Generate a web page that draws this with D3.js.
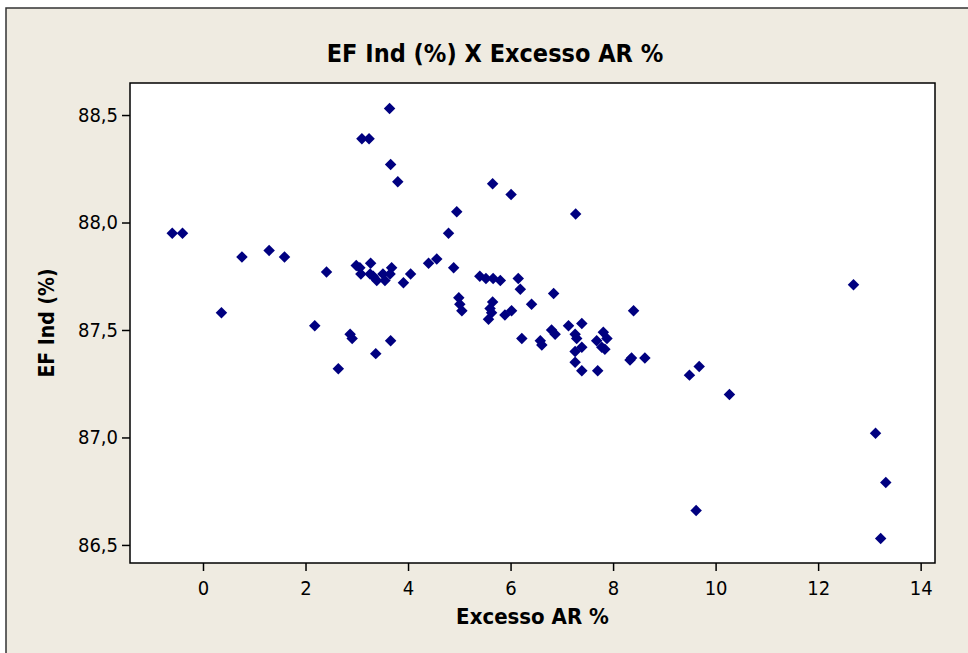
<!DOCTYPE html>
<html>
<head>
<meta charset="utf-8">
<script src="https://cdn.jsdelivr.net/npm/d3@7"></script>
<style>
  body { margin: 0; background: #fff; }
  svg { display: block; }
  .tick text { font-family: "DejaVu Sans Condensed", "DejaVu Sans", sans-serif; font-size: 20px; fill: #000; }
  .title, .axis-label { font-family: "DejaVu Sans Condensed", "DejaVu Sans", sans-serif; font-weight: bold; fill: #000; }
</style>
</head>
<body>
<svg id="chart" width="968" height="653"></svg>
<script>
// Excesso AR % (x) vs EF Ind % (y)
const excessoAr = [
  -0.60, -0.40, 0.36, 0.76, 1.29, 1.59, 2.18, 2.41, 2.64, 2.87, 2.91,
  2.99, 3.06, 3.08, 3.27, 3.26, 3.32, 3.39, 3.51, 3.55, 3.65, 3.68, 3.91, 4.05,
  3.10, 3.24, 3.64, 3.66, 3.80, 3.37, 3.66,
  4.40, 4.56, 4.89, 4.79, 4.95, 4.99, 5.01, 5.05,
  5.40, 5.52, 5.66, 5.80, 6.15, 6.19, 5.65, 5.60, 5.63, 5.57, 5.89, 6.02, 6.41,
  5.65, 6.01, 6.22, 6.58, 6.61, 6.84,
  6.80, 6.87, 7.13, 7.39, 7.26, 7.29, 7.39, 7.26, 7.26, 7.39, 7.70, 7.27,
  7.81, 7.68, 7.88, 7.78, 7.84,
  8.40, 8.33, 8.36, 8.62,
  9.68, 9.49, 10.27, 9.62, 12.69, 13.12, 13.32, 13.22
];
const efInd = [
  87.95, 87.95, 87.58, 87.84, 87.87, 87.84, 87.52, 87.77, 87.32, 87.48, 87.46,
  87.80, 87.79, 87.76, 87.81, 87.76, 87.75, 87.73, 87.76, 87.73, 87.76, 87.79, 87.72, 87.76,
  88.39, 88.39, 88.53, 88.27, 88.19, 87.39, 87.45,
  87.81, 87.83, 87.79, 87.95, 88.05, 87.65, 87.62, 87.59,
  87.75, 87.74, 87.74, 87.73, 87.74, 87.69, 87.63, 87.60, 87.58, 87.55, 87.57, 87.59, 87.62,
  88.18, 88.13, 87.46, 87.45, 87.43, 87.67,
  87.50, 87.48, 87.52, 87.53, 87.48, 87.46, 87.42, 87.40, 87.35, 87.31, 87.31, 88.04,
  87.49, 87.45, 87.46, 87.42, 87.41,
  87.59, 87.36, 87.37, 87.37,
  87.33, 87.29, 87.20, 86.66, 87.71, 87.02, 86.79, 86.53
];
const xTicks = [0, 2, 4, 6, 8, 10, 12, 14];
const yTicks = [86.5, 87.0, 87.5, 88.0, 88.5];

const chartTitle = 'EF Ind (%) X Excesso AR %';
const xTitle = 'Excesso AR %';
const yTitle = 'EF Ind (%)';

const svg = d3.select('#chart');
const plot = {left: 130, top: 83, right: 935, bottom: 563};

// frame and beige background
svg.append('rect')
  .attr('x', 6).attr('y', 8)
  .attr('width', 980).attr('height', 660)
  .attr('fill', '#efebe1')
  .attr('stroke', '#333')
  .attr('stroke-width', 1.5);

svg.append('rect')
  .attr('x', plot.left).attr('y', plot.top)
  .attr('width', plot.right - plot.left)
  .attr('height', plot.bottom - plot.top)
  .attr('fill', '#fff');

const x = d3.scaleLinear().domain([-1.424, 14.28]).range([plot.left, plot.right]);
const y = d3.scaleLinear().domain([86.416, 88.649]).range([plot.bottom, plot.top]);

const comma = d3.formatLocale({decimal: ',', thousands: '.', grouping: [3], currency: ['', '']});

const xAxis = svg.append('g')
  .attr('transform', `translate(0,${plot.bottom})`)
  .call(d3.axisBottom(x).tickValues(xTicks).tickSize(8).tickPadding(10).tickFormat(d3.format('d')));
const yAxis = svg.append('g')
  .attr('transform', `translate(${plot.left},0)`)
  .call(d3.axisLeft(y).tickValues(yTicks).tickSize(8).tickPadding(4).tickFormat(comma.format('.1f')));

[xAxis, yAxis].forEach(g => {
  g.select('.domain').remove();
  g.selectAll('.tick line').attr('stroke', '#000').attr('stroke-width', 1.5);
});

svg.append('rect')
  .attr('x', plot.left).attr('y', plot.top)
  .attr('width', plot.right - plot.left)
  .attr('height', plot.bottom - plot.top)
  .attr('fill', 'none')
  .attr('stroke', '#000')
  .attr('stroke-width', 1.5);

// points
const points = excessoAr.map((v, i) => ({x: v, y: efInd[i]}));
svg.append('g')
  .selectAll('path')
  .data(points)
  .enter()
  .append('path')
  .attr('d', d3.symbol(d3.symbolDiamond2, 84))
  .attr('transform', d => `translate(${x(d.x)},${y(d.y)})`)
  .attr('fill', '#000080');

svg.append('text')
  .attr('class', 'title')
  .attr('x', 495)
  .attr('y', 62)
  .attr('text-anchor', 'middle')
  .attr('font-size', 25)
  .text(chartTitle);

svg.append('text')
  .attr('class', 'axis-label')
  .attr('x', (plot.left + plot.right) / 2)
  .attr('y', 624)
  .attr('text-anchor', 'middle')
  .attr('font-size', 22)
  .text(xTitle);

svg.append('text')
  .attr('class', 'axis-label')
  .attr('transform', `translate(54,${(plot.top + plot.bottom) / 2}) rotate(-90)`)
  .attr('text-anchor', 'middle')
  .attr('font-size', 21)
  .text(yTitle);
</script>
</body>
</html>
